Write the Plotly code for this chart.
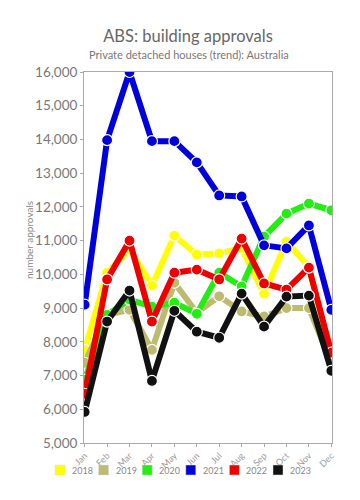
import plotly.graph_objects as go

months = ["Jan", "Feb", "Mar", "Apr", "May", "Jun", "Jul", "Aug", "Sep", "Oct", "Nov", "Dec"]
years = ["2018", "2019", "2020", "2021", "2022", "2023"]
colors = ["#ffff00", "#bdbb6f", "#22ee11", "#0000dd", "#ee0000", "#111111"]

v2018 = [7760, 10050, 10750, 9670, 11150, 10590, 10620, 10780, 9430, 10970, 10230, 7600]
v2019 = [7380, 8800, 8950, 7760, 9750, 8870, 9350, 8900, 8750, 9000, 9000, 7380]
v2020 = [6870, 8800, 9250, 9040, 9160, 8830, 10050, 9640, 11120, 11800, 12100, 11900]
v2021 = [9100, 13980, 16000, 13950, 13950, 13320, 12340, 12310, 10860, 10770, 11450, 8950]
v2022 = [6460, 9850, 11000, 8600, 10050, 10140, 9850, 11060, 9730, 9550, 10200, 7680]
v2023 = [5920, 8600, 9520, 6840, 8920, 8300, 8120, 9430, 8450, 9340, 9370, 7140]
series = [v2018, v2019, v2020, v2021, v2022, v2023]

FONT = "Lato"
GREY = "#777777"
W, H = 360, 500
ML, MR, MT, MB = 84, 28, 72, 57
PW, PH = W - ML - MR, H - MT - MB


def px_x(px):
    return (px - ML) / PW


def px_y(py):
    return (H - MB - py) / PH


fig = go.Figure()
for name, vals, c in zip(years, series, colors):
    fig.add_trace(go.Scatter(
        x=months, y=vals, name=name, mode="lines+markers",
        line=dict(color=c, width=6),
        marker=dict(color=c, size=11, line=dict(color="white", width=1.2)),
        showlegend=False,
    ))

# custom legend (squares + labels) in one row below the chart
for i, (name, c) in enumerate(zip(years, colors)):
    left = 55 + i * 43.6
    fig.add_shape(type="rect", xref="paper", yref="paper",
                  x0=px_x(left), x1=px_x(left + 10), y0=px_y(475), y1=px_y(465),
                  fillcolor=c, line=dict(color="#dddddd", width=0.5))
    fig.add_annotation(xref="paper", yref="paper", x=px_x(left + 15), y=px_y(470),
                       xanchor="left", yanchor="middle", text=name, showarrow=False,
                       font=dict(family=FONT, size=9, color="#888888"))

fig.add_annotation(xref="paper", yref="paper", x=px_x(189), y=px_y(54),
                   xanchor="center", yanchor="middle", showarrow=False,
                   text="Private detached houses (trend): Australia",
                   font=dict(family=FONT, size=11, color="#777777"))
fig.add_annotation(xref="paper", yref="paper", x=px_x(29), y=px_y(240),
                   xanchor="center", yanchor="middle", showarrow=False, textangle=-90,
                   text="number approvals",
                   font=dict(family=FONT, size=10, color="#888888"))

fig.update_layout(
    width=W, height=H,
    margin=dict(l=ML, r=MR, t=MT, b=MB, autoexpand=False),
    paper_bgcolor="white", plot_bgcolor="white",
    font=dict(family=FONT, color=GREY),
    showlegend=False,
    title=dict(
        text="ABS: building approvals",
        xref="container", x=188 / W, xanchor="center", y=1 - 36 / H, yanchor="middle",
        font=dict(family=FONT, size=16.5, color="#666666"),
    ),
    xaxis=dict(
        showline=True, linecolor="#aaaaaa", linewidth=1, mirror=True,
        ticks="outside", ticklen=3, tickcolor="#aaaaaa",
        tickangle=-45, tickfont=dict(size=9, color="#999999"),
        showgrid=False, range=[-0.03, 11.03],
    ),
    yaxis=dict(
        range=[5000, 16000], dtick=1000, tickformat=",d",
        showline=True, linecolor="#aaaaaa", linewidth=1, mirror=True,
        ticks="outside", ticklen=3, tickcolor="#aaaaaa",
        tickfont=dict(size=13.5, color="#777777"),
        showgrid=False, zeroline=False,
    ),
)

fig.write_html("out.html")
